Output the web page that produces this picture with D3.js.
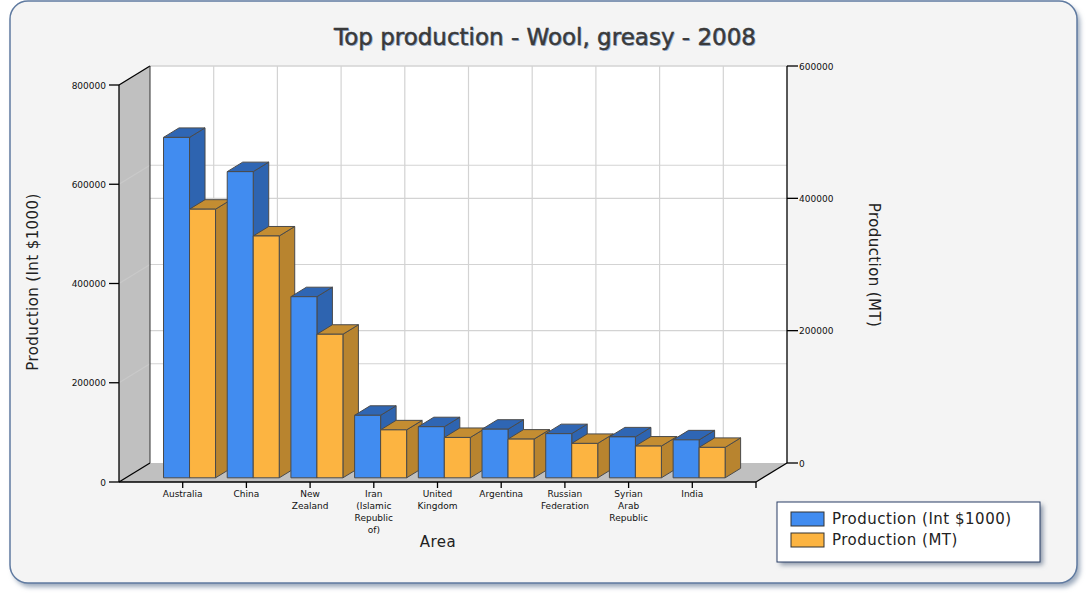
<!DOCTYPE html>
<html>
<head>
<meta charset="utf-8">
<script src="https://cdn.jsdelivr.net/npm/d3@7"></script>
<style>
  body { margin: 0; background: #ffffff; }
  svg text { font-family: "DejaVu Sans", Verdana, sans-serif; }
</style>
</head>
<body>
<script>
// data
const areas = ["Australia", "China", "New Zealand", "Iran (Islamic Republic of)",
               "United Kingdom", "Argentina", "Russian Federation",
               "Syrian Arab Republic", "India"];
const prodInt = [686000, 617000, 365000, 126000, 103000, 98000, 89000, 82500, 76500];
const prodMT  = [406000, 365500, 217000, 72500, 61000, 58500, 52000, 48000, 46000];
const leftTicks  = [0, 200000, 400000, 600000, 800000];
const rightTicks = [0, 200000, 400000, 600000];
const seriesNames = ["Production (Int $1000)", "Production (MT)"];

const W = 1090, H = 593;
const front = {left: 119, right: 756, top: 85, bottom: 482};
const depth = {dx: 31, dy: -19};
const z0 = 0.22, z1 = 0.72;   // bars sit in the middle of the depth
const halfGroup = 26;

const colors = [
  {front: "#418cf0", side: "#2e64b0", top: "#2f66b4"},
  {front: "#fcb441", side: "#b8842f", top: "#c48d32"}
];

const svg = d3.select("body").append("svg")
    .attr("width", W).attr("height", H);

const defs = svg.append("defs");
defs.append("filter").attr("id", "blur")
  .append("feGaussianBlur").attr("stdDeviation", 2.5);

// outer frame
svg.append("rect")
    .attr("x", 13).attr("y", 5).attr("width", 1067).attr("height", 582)
    .attr("rx", 18).attr("fill", "#9aa8bb").attr("filter", "url(#blur)");
svg.append("rect")
    .attr("x", 10).attr("y", 1).attr("width", 1067).attr("height", 582)
    .attr("rx", 18).attr("fill", "#f4f4f4")
    .attr("stroke", "#5f7aa0").attr("stroke-width", 1.5);

// scales (front plane)
const x = d3.scaleLinear().domain([0, 10]).range([front.left, front.right]);
const yL = d3.scaleLinear().domain([0, 800000]).range([front.bottom, front.top]);
const yR = d3.scaleLinear().domain([0, 600000]).range([front.bottom, front.top]);

const P = (px, py, z) => [px + z * depth.dx, py + z * depth.dy];
const pts = arr => arr.map(p => p.join(",")).join(" ");

const g = svg.append("g");

// back wall
g.append("rect")
    .attr("x", front.left + depth.dx).attr("y", front.top + depth.dy)
    .attr("width", front.right - front.left).attr("height", front.bottom - front.top)
    .attr("fill", "#ffffff");

// left wall
g.append("polygon")
    .attr("points", pts([P(front.left, front.top, 0), P(front.left, front.top, 1),
                         P(front.left, front.bottom, 1), P(front.left, front.bottom, 0)]))
    .attr("fill", "#c0c0c0");

// floor
g.append("polygon")
    .attr("points", pts([P(front.left, front.bottom, 0), P(front.right, front.bottom, 0),
                         P(front.right, front.bottom, 1), P(front.left, front.bottom, 1)]))
    .attr("fill", "#c0c0c0");

// grid lines on back wall
const grid = g.append("g").attr("stroke", "#d3d3d3").attr("stroke-width", 1.2);
leftTicks.filter(d => d > 0).forEach(t => {
  const a = P(front.left, yL(t), 1), b = P(front.right, yL(t), 1);
  grid.append("line").attr("x1", a[0]).attr("y1", a[1]).attr("x2", b[0]).attr("y2", b[1]);
  const c = P(front.left, yL(t), 0);
  grid.append("line").attr("x1", c[0]).attr("y1", c[1]).attr("x2", a[0]).attr("y2", a[1])
      .attr("stroke", "#cfcfcf").attr("stroke-opacity", 0.6);
});
rightTicks.filter(d => d > 0).forEach(t => {
  const a = P(front.left, yR(t), 1), b = P(front.right, yR(t), 1);
  grid.append("line").attr("x1", a[0]).attr("y1", a[1]).attr("x2", b[0]).attr("y2", b[1]);
});
d3.range(1, 10).forEach(k => {
  const a = P(x(k), front.top, 1), b = P(x(k), front.bottom, 1);
  grid.append("line").attr("x1", a[0]).attr("y1", a[1]).attr("x2", b[0]).attr("y2", b[1]);
});

// wall edges
const edges = g.append("g").attr("stroke", "#000").attr("stroke-width", 1.3).attr("fill", "none");
const edge = (a, b) => edges.append("line").attr("x1", a[0]).attr("y1", a[1]).attr("x2", b[0]).attr("y2", b[1]);
edge(P(front.left, front.top, 0), P(front.left, front.top, 1));
edge(P(front.left, front.bottom, 0), P(front.left, front.bottom, 1));
edge(P(front.right, front.bottom, 0), P(front.right, front.bottom, 1));
edge(P(front.left, front.top, 1), P(front.left, front.bottom, 1)).attr("stroke", "#333").attr("stroke-width", 1);

// bars
function bar(x0, x1, yTop, c) {
  const yB = front.bottom;
  const bg = g.append("g").attr("stroke", "#4a4a4a").attr("stroke-width", 1)
      .attr("stroke-linejoin", "round");
  bg.append("polygon")
      .attr("points", pts([P(x1, yTop, z0), P(x1, yTop, z1), P(x1, yB, z1), P(x1, yB, z0)]))
      .attr("fill", c.side);
  bg.append("polygon")
      .attr("points", pts([P(x0, yTop, z0), P(x1, yTop, z0), P(x1, yTop, z1), P(x0, yTop, z1)]))
      .attr("fill", c.top);
  bg.append("polygon")
      .attr("points", pts([P(x0, yTop, z0), P(x1, yTop, z0), P(x1, yB, z0), P(x0, yB, z0)]))
      .attr("fill", c.front);
}
areas.forEach((a, i) => {
  const cx = x(i + 1);
  bar(cx - halfGroup, cx, yL(prodInt[i]), colors[0]);
  bar(cx, cx + halfGroup, yR(prodMT[i]), colors[1]);
});

// front edges (axes)
edge([front.left, front.top], [front.left, front.bottom]).raise();
edge([front.left, front.bottom], [front.right, front.bottom]).raise();
const rTop = P(front.right, front.top, 1), rBot = P(front.right, front.bottom, 1);
edge(rTop, rBot).raise();

// left axis ticks
const axL = svg.append("g");
leftTicks.forEach(t => {
  axL.append("line").attr("x1", front.left - 10).attr("x2", front.left)
     .attr("y1", yL(t)).attr("y2", yL(t)).attr("stroke", "#000").attr("stroke-width", 1.3);
  axL.append("text").attr("x", front.left - 13).attr("y", yL(t) + 3.5)
     .attr("text-anchor", "end").attr("font-size", "9px").attr("fill", "#111").text(t);
});
// right axis ticks
const axR = svg.append("g");
rightTicks.forEach(t => {
  const yy = yR(t) + depth.dy;
  axR.append("line").attr("x1", rTop[0]).attr("x2", rTop[0] + 11)
     .attr("y1", yy).attr("y2", yy).attr("stroke", "#000").attr("stroke-width", 1.3);
  axR.append("text").attr("x", rTop[0] + 12).attr("y", yy + 3.5)
     .attr("font-size", "9px").attr("fill", "#111").text(t);
});
// x axis ticks and labels
const axX = svg.append("g");
d3.range(1, 11).forEach(k => {
  axX.append("line").attr("x1", x(k)).attr("x2", x(k))
     .attr("y1", front.bottom).attr("y2", front.bottom + 6)
     .attr("stroke", "#000").attr("stroke-width", 1.3);
});
areas.forEach((a, i) => {
  const t = axX.append("text").attr("text-anchor", "middle")
      .attr("font-size", "9px").attr("fill", "#111");
  a.split(" ").forEach((w, j) => {
    t.append("tspan").attr("x", x(i + 1)).attr("y", front.bottom + 15 + j * 12).text(w);
  });
});

// titles
const titleText = "Top production - Wool, greasy - 2008";
svg.append("text").attr("x", 546).attr("y", 46).attr("text-anchor", "middle")
   .attr("font-size", "23px").attr("fill", "#9db6d8").text(titleText);
svg.append("text").attr("x", 545).attr("y", 45).attr("text-anchor", "middle")
   .attr("font-size", "23px").attr("fill", "#3a3a3a")
   .attr("stroke", "#3a3a3a").attr("stroke-width", 0.5).text(titleText);

svg.append("text").attr("x", 438).attr("y", 547).attr("text-anchor", "middle")
   .attr("font-size", "15px").attr("letter-spacing", "0.5px").attr("fill", "#222").text("Area");

svg.append("text").attr("transform", "translate(38,282) rotate(-90)")
   .attr("text-anchor", "middle").attr("font-size", "15px").attr("letter-spacing", "0.4px")
   .attr("fill", "#222").text(seriesNames[0]);
svg.append("text").attr("transform", "translate(869,265) rotate(90)")
   .attr("text-anchor", "middle").attr("font-size", "15px").attr("letter-spacing", "0.4px")
   .attr("fill", "#222").text(seriesNames[1]);

// legend
const lg = svg.append("g");
lg.append("rect").attr("x", 780).attr("y", 505).attr("width", 263).attr("height", 60)
  .attr("fill", "#8a96a8").attr("filter", "url(#blur)");
lg.append("rect").attr("x", 777).attr("y", 502).attr("width", 263).attr("height", 60)
  .attr("fill", "#ffffff").attr("stroke", "#2b3f66").attr("stroke-width", 1);
seriesNames.forEach((s, i) => {
  lg.append("rect").attr("x", 791).attr("y", 512 + i * 21).attr("width", 33).attr("height", 14)
    .attr("fill", colors[i].front).attr("stroke", "#333").attr("stroke-width", 1);
  lg.append("text").attr("x", 832).attr("y", 524 + i * 21)
    .attr("font-size", "15px").attr("letter-spacing", "0.5px").attr("fill", "#222").text(s);
});
</script>
</body>
</html>
